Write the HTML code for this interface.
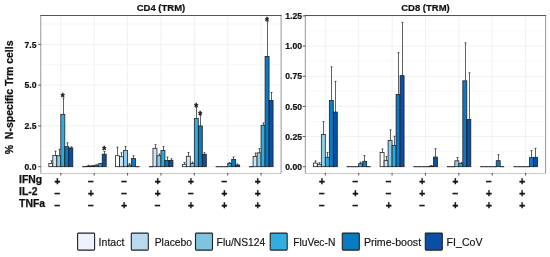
<!DOCTYPE html>
<html><head><meta charset="utf-8"><title>Trm cells chart</title>
<style>html,body{margin:0;padding:0;background:#fff}svg{display:block}</style></head>
<body>
<svg width="550" height="257" viewBox="0 0 550 257" font-family="'Liberation Sans', Arial, sans-serif">
<rect width="550" height="257" fill="#fff"/>
<g>
<rect x="40.8" y="15.5" width="240.30" height="157.5" fill="#fff"/>
<line x1="40.8" x2="281.1" y1="146.31" y2="146.31" stroke="#f3f3f3" stroke-width="0.6"/>
<line x1="40.8" x2="281.1" y1="105.54" y2="105.54" stroke="#f3f3f3" stroke-width="0.6"/>
<line x1="40.8" x2="281.1" y1="64.76" y2="64.76" stroke="#f3f3f3" stroke-width="0.6"/>
<line x1="40.8" x2="281.1" y1="23.99" y2="23.99" stroke="#f3f3f3" stroke-width="0.6"/>
<line x1="40.8" x2="281.1" y1="166.70" y2="166.70" stroke="#ebebeb" stroke-width="0.7"/>
<line x1="40.8" x2="281.1" y1="125.92" y2="125.92" stroke="#ebebeb" stroke-width="0.7"/>
<line x1="40.8" x2="281.1" y1="85.15" y2="85.15" stroke="#ebebeb" stroke-width="0.7"/>
<line x1="40.8" x2="281.1" y1="44.38" y2="44.38" stroke="#ebebeb" stroke-width="0.7"/>
<line x1="60.82" x2="60.82" y1="15.5" y2="173.0" stroke="#ebebeb" stroke-width="0.7"/>
<line x1="94.20" x2="94.20" y1="15.5" y2="173.0" stroke="#ebebeb" stroke-width="0.7"/>
<line x1="127.58" x2="127.58" y1="15.5" y2="173.0" stroke="#ebebeb" stroke-width="0.7"/>
<line x1="160.95" x2="160.95" y1="15.5" y2="173.0" stroke="#ebebeb" stroke-width="0.7"/>
<line x1="194.32" x2="194.32" y1="15.5" y2="173.0" stroke="#ebebeb" stroke-width="0.7"/>
<line x1="227.70" x2="227.70" y1="15.5" y2="173.0" stroke="#ebebeb" stroke-width="0.7"/>
<line x1="261.07" x2="261.07" y1="15.5" y2="173.0" stroke="#ebebeb" stroke-width="0.7"/>
<path d="M51.50 163.50V160.50M50.50 160.80h2" stroke="#3a3a3a" stroke-width="0.8" fill="none"/>
<rect x="48.82" y="163.50" width="4.0" height="3.20" fill="#ffffff" stroke="#1a1a1a" stroke-width="0.75"/>
<path d="M55.50 155.45V150.88M54.50 151.18h2" stroke="#3a3a3a" stroke-width="0.8" fill="none"/>
<rect x="52.82" y="155.45" width="4.0" height="11.25" fill="#cbe5f8" stroke="#1a1a1a" stroke-width="0.75"/>
<path d="M59.50 155.77V149.00M58.50 149.30h2" stroke="#3a3a3a" stroke-width="0.8" fill="none"/>
<rect x="56.82" y="155.77" width="4.0" height="10.93" fill="#8ccdeb" stroke="#1a1a1a" stroke-width="0.75"/>
<path d="M63.50 114.34V97.87M62.50 98.17h2" stroke="#3a3a3a" stroke-width="0.8" fill="none"/>
<rect x="60.82" y="114.34" width="4.0" height="52.36" fill="#2fabe0" stroke="#1a1a1a" stroke-width="0.75"/>
<path d="M67.50 146.70V142.56M66.50 142.86h2" stroke="#3a3a3a" stroke-width="0.8" fill="none"/>
<rect x="64.82" y="146.70" width="4.0" height="20.00" fill="#0a7ac2" stroke="#1a1a1a" stroke-width="0.75"/>
<path d="M71.50 147.99V146.70M70.50 147.00h2" stroke="#3a3a3a" stroke-width="0.8" fill="none"/>
<rect x="68.82" y="147.99" width="4.0" height="18.71" fill="#0b4ea6" stroke="#1a1a1a" stroke-width="0.75"/>
<line x1="82.20" x2="86.20" y1="166.7" y2="166.7" stroke="#1a1a1a" stroke-width="1"/>
<path d="M88.50 166.21V164.91M87.50 165.21h2" stroke="#3a3a3a" stroke-width="0.8" fill="none"/>
<rect x="86.20" y="166.21" width="4.0" height="0.49" fill="#cbe5f8" stroke="#1a1a1a" stroke-width="0.75"/>
<path d="M92.50 165.88V165.40M91.50 165.70h2" stroke="#3a3a3a" stroke-width="0.8" fill="none"/>
<rect x="90.20" y="165.88" width="4.0" height="0.82" fill="#8ccdeb" stroke="#1a1a1a" stroke-width="0.75"/>
<path d="M96.50 165.23V164.58M95.50 164.88h2" stroke="#3a3a3a" stroke-width="0.8" fill="none"/>
<rect x="94.20" y="165.23" width="4.0" height="1.47" fill="#1f8fc0" stroke="#1a1a1a" stroke-width="0.75"/>
<path d="M100.50 163.76V163.11M99.50 163.41h2" stroke="#3a3a3a" stroke-width="0.8" fill="none"/>
<rect x="98.20" y="163.76" width="4.0" height="2.94" fill="#2fabe0" stroke="#1a1a1a" stroke-width="0.75"/>
<path d="M104.50 154.14V151.21M103.50 151.51h2" stroke="#3a3a3a" stroke-width="0.8" fill="none"/>
<rect x="102.20" y="154.14" width="4.0" height="12.56" fill="#0b4ea6" stroke="#1a1a1a" stroke-width="0.75"/>
<path d="M117.50 155.77V146.96M116.50 147.26h2" stroke="#3a3a3a" stroke-width="0.8" fill="none"/>
<rect x="115.58" y="155.77" width="4.0" height="10.93" fill="#ffffff" stroke="#1a1a1a" stroke-width="0.75"/>
<path d="M121.50 156.75V152.51M120.50 152.81h2" stroke="#3a3a3a" stroke-width="0.8" fill="none"/>
<rect x="119.58" y="156.75" width="4.0" height="9.95" fill="#cbe5f8" stroke="#1a1a1a" stroke-width="0.75"/>
<path d="M125.50 150.39V146.31M124.50 146.61h2" stroke="#3a3a3a" stroke-width="0.8" fill="none"/>
<rect x="123.58" y="150.39" width="4.0" height="16.31" fill="#8ccdeb" stroke="#1a1a1a" stroke-width="0.75"/>
<path d="M129.50 165.07V163.44M128.50 163.74h2" stroke="#3a3a3a" stroke-width="0.8" fill="none"/>
<rect x="127.58" y="165.07" width="4.0" height="1.63" fill="#2fabe0" stroke="#1a1a1a" stroke-width="0.75"/>
<path d="M133.50 158.54V155.45M132.50 155.75h2" stroke="#3a3a3a" stroke-width="0.8" fill="none"/>
<rect x="131.57" y="158.54" width="4.0" height="8.15" fill="#0a7ac2" stroke="#1a1a1a" stroke-width="0.75"/>
<line x1="135.57" x2="139.57" y1="166.7" y2="166.7" stroke="#1a1a1a" stroke-width="1"/>
<line x1="148.95" x2="152.95" y1="166.7" y2="166.7" stroke="#1a1a1a" stroke-width="1"/>
<path d="M155.50 148.27V144.36M154.50 144.66h2" stroke="#3a3a3a" stroke-width="0.8" fill="none"/>
<rect x="152.95" y="148.27" width="4.0" height="18.43" fill="#cbe5f8" stroke="#1a1a1a" stroke-width="0.75"/>
<path d="M159.50 155.77V153.82M158.50 154.12h2" stroke="#3a3a3a" stroke-width="0.8" fill="none"/>
<rect x="156.95" y="155.77" width="4.0" height="10.93" fill="#8ccdeb" stroke="#1a1a1a" stroke-width="0.75"/>
<path d="M163.50 150.39V146.31M162.50 146.61h2" stroke="#3a3a3a" stroke-width="0.8" fill="none"/>
<rect x="160.95" y="150.39" width="4.0" height="16.31" fill="#2fabe0" stroke="#1a1a1a" stroke-width="0.75"/>
<path d="M167.50 160.50V156.75M166.50 157.05h2" stroke="#3a3a3a" stroke-width="0.8" fill="none"/>
<rect x="164.95" y="160.50" width="4.0" height="6.20" fill="#0a7ac2" stroke="#1a1a1a" stroke-width="0.75"/>
<path d="M171.50 160.34V158.54M170.50 158.84h2" stroke="#3a3a3a" stroke-width="0.8" fill="none"/>
<rect x="168.95" y="160.34" width="4.0" height="6.36" fill="#0b4ea6" stroke="#1a1a1a" stroke-width="0.75"/>
<path d="M184.50 164.42V162.13M183.50 162.43h2" stroke="#3a3a3a" stroke-width="0.8" fill="none"/>
<rect x="182.32" y="164.42" width="4.0" height="2.28" fill="#ffffff" stroke="#1a1a1a" stroke-width="0.75"/>
<path d="M188.50 156.26V152.18M187.50 152.48h2" stroke="#3a3a3a" stroke-width="0.8" fill="none"/>
<rect x="186.32" y="156.26" width="4.0" height="10.44" fill="#cbe5f8" stroke="#1a1a1a" stroke-width="0.75"/>
<path d="M192.50 163.44V161.81M191.50 162.11h2" stroke="#3a3a3a" stroke-width="0.8" fill="none"/>
<rect x="190.32" y="163.44" width="4.0" height="3.26" fill="#8ccdeb" stroke="#1a1a1a" stroke-width="0.75"/>
<path d="M196.50 118.59V106.84M195.50 107.14h2" stroke="#3a3a3a" stroke-width="0.8" fill="none"/>
<rect x="194.32" y="118.59" width="4.0" height="48.11" fill="#2fabe0" stroke="#1a1a1a" stroke-width="0.75"/>
<path d="M200.50 125.92V114.67M199.50 114.97h2" stroke="#3a3a3a" stroke-width="0.8" fill="none"/>
<rect x="198.32" y="125.92" width="4.0" height="40.77" fill="#0a7ac2" stroke="#1a1a1a" stroke-width="0.75"/>
<path d="M204.50 154.30V152.51M203.50 152.81h2" stroke="#3a3a3a" stroke-width="0.8" fill="none"/>
<rect x="202.32" y="154.30" width="4.0" height="12.40" fill="#0b4ea6" stroke="#1a1a1a" stroke-width="0.75"/>
<line x1="215.70" x2="219.70" y1="166.7" y2="166.7" stroke="#1a1a1a" stroke-width="1"/>
<line x1="219.70" x2="223.70" y1="166.7" y2="166.7" stroke="#1a1a1a" stroke-width="1"/>
<line x1="223.70" x2="227.70" y1="166.7" y2="166.7" stroke="#1a1a1a" stroke-width="1"/>
<path d="M229.50 163.60V162.13M228.50 162.43h2" stroke="#3a3a3a" stroke-width="0.8" fill="none"/>
<rect x="227.70" y="163.60" width="4.0" height="3.10" fill="#2fabe0" stroke="#1a1a1a" stroke-width="0.75"/>
<path d="M233.50 159.36V156.75M232.50 157.05h2" stroke="#3a3a3a" stroke-width="0.8" fill="none"/>
<rect x="231.70" y="159.36" width="4.0" height="7.34" fill="#0a7ac2" stroke="#1a1a1a" stroke-width="0.75"/>
<path d="M237.50 165.07V163.76M236.50 164.06h2" stroke="#3a3a3a" stroke-width="0.8" fill="none"/>
<rect x="235.70" y="165.07" width="4.0" height="1.63" fill="#0b4ea6" stroke="#1a1a1a" stroke-width="0.75"/>
<line x1="249.07" x2="253.07" y1="166.7" y2="166.7" stroke="#1a1a1a" stroke-width="1"/>
<path d="M255.50 156.42V152.84M254.50 153.14h2" stroke="#3a3a3a" stroke-width="0.8" fill="none"/>
<rect x="253.07" y="156.42" width="4.0" height="10.28" fill="#cbe5f8" stroke="#1a1a1a" stroke-width="0.75"/>
<path d="M259.50 152.84V148.27M258.50 148.57h2" stroke="#3a3a3a" stroke-width="0.8" fill="none"/>
<rect x="257.07" y="152.84" width="4.0" height="13.86" fill="#8ccdeb" stroke="#1a1a1a" stroke-width="0.75"/>
<path d="M263.50 125.27V122.66M262.50 122.96h2" stroke="#3a3a3a" stroke-width="0.8" fill="none"/>
<rect x="261.07" y="125.27" width="4.0" height="41.43" fill="#2fabe0" stroke="#1a1a1a" stroke-width="0.75"/>
<path d="M267.50 56.44V21.38M266.50 21.68h2" stroke="#3a3a3a" stroke-width="0.8" fill="none"/>
<rect x="265.07" y="56.44" width="4.0" height="110.26" fill="#0a7ac2" stroke="#1a1a1a" stroke-width="0.75"/>
<path d="M271.50 100.48V92.16M270.50 92.46h2" stroke="#3a3a3a" stroke-width="0.8" fill="none"/>
<rect x="269.07" y="100.48" width="4.0" height="66.22" fill="#0b4ea6" stroke="#1a1a1a" stroke-width="0.75"/>
<text x="62.72" y="100.70" font-size="10" font-weight="bold" text-anchor="middle" fill="#111" stroke="#111" stroke-width="0.3">*</text>
<text x="104.10" y="154.00" font-size="10" font-weight="bold" text-anchor="middle" fill="#111" stroke="#111" stroke-width="0.3">*</text>
<text x="196.22" y="110.80" font-size="10" font-weight="bold" text-anchor="middle" fill="#111" stroke="#111" stroke-width="0.3">*</text>
<text x="200.22" y="118.80" font-size="10" font-weight="bold" text-anchor="middle" fill="#111" stroke="#111" stroke-width="0.3">*</text>
<text x="266.97" y="25.30" font-size="10" font-weight="bold" text-anchor="middle" fill="#111" stroke="#111" stroke-width="0.3">*</text>
<path d="M40.8 173.5H281.1" stroke="#c4c4c4" stroke-width="0.9" fill="none"/>
<path d="M40.8 15.5V173.5M281.1 15.5V173.5" stroke="#969696" stroke-width="1" fill="none"/>
<path d="M40.3 15.5H281.6" stroke="#555" stroke-width="1" fill="none"/>
<line x1="38.20" x2="40.8" y1="166.70" y2="166.70" stroke="#333" stroke-width="0.8"/>
<text x="36.50" y="169.90" font-size="8.6" font-weight="bold" text-anchor="end" fill="#111" stroke="#111" stroke-width="0.2">0.0</text>
<line x1="38.20" x2="40.8" y1="125.92" y2="125.92" stroke="#333" stroke-width="0.8"/>
<text x="36.50" y="129.12" font-size="8.6" font-weight="bold" text-anchor="end" fill="#111" stroke="#111" stroke-width="0.2">2.5</text>
<line x1="38.20" x2="40.8" y1="85.15" y2="85.15" stroke="#333" stroke-width="0.8"/>
<text x="36.50" y="88.35" font-size="8.6" font-weight="bold" text-anchor="end" fill="#111" stroke="#111" stroke-width="0.2">5.0</text>
<line x1="38.20" x2="40.8" y1="44.38" y2="44.38" stroke="#333" stroke-width="0.8"/>
<text x="36.50" y="47.58" font-size="8.6" font-weight="bold" text-anchor="end" fill="#111" stroke="#111" stroke-width="0.2">7.5</text>
<line x1="60.82" x2="60.82" y1="173.0" y2="175.6" stroke="#333" stroke-width="0.8"/>
<text x="57.42" y="185.05" font-size="10" font-weight="bold" text-anchor="middle" fill="#111" stroke="#111" stroke-width="0.35">+</text>
<text x="57.42" y="196.85" font-size="10" font-weight="bold" text-anchor="middle" fill="#111" stroke="#111" stroke-width="0.35">−</text>
<text x="57.42" y="208.75" font-size="10" font-weight="bold" text-anchor="middle" fill="#111" stroke="#111" stroke-width="0.35">−</text>
<line x1="94.20" x2="94.20" y1="173.0" y2="175.6" stroke="#333" stroke-width="0.8"/>
<text x="90.80" y="185.05" font-size="10" font-weight="bold" text-anchor="middle" fill="#111" stroke="#111" stroke-width="0.35">−</text>
<text x="90.80" y="196.85" font-size="10" font-weight="bold" text-anchor="middle" fill="#111" stroke="#111" stroke-width="0.35">+</text>
<text x="90.80" y="208.75" font-size="10" font-weight="bold" text-anchor="middle" fill="#111" stroke="#111" stroke-width="0.35">−</text>
<line x1="127.58" x2="127.58" y1="173.0" y2="175.6" stroke="#333" stroke-width="0.8"/>
<text x="124.17" y="185.05" font-size="10" font-weight="bold" text-anchor="middle" fill="#111" stroke="#111" stroke-width="0.35">−</text>
<text x="124.17" y="196.85" font-size="10" font-weight="bold" text-anchor="middle" fill="#111" stroke="#111" stroke-width="0.35">−</text>
<text x="124.17" y="208.75" font-size="10" font-weight="bold" text-anchor="middle" fill="#111" stroke="#111" stroke-width="0.35">+</text>
<line x1="160.95" x2="160.95" y1="173.0" y2="175.6" stroke="#333" stroke-width="0.8"/>
<text x="157.55" y="185.05" font-size="10" font-weight="bold" text-anchor="middle" fill="#111" stroke="#111" stroke-width="0.35">+</text>
<text x="157.55" y="196.85" font-size="10" font-weight="bold" text-anchor="middle" fill="#111" stroke="#111" stroke-width="0.35">+</text>
<text x="157.55" y="208.75" font-size="10" font-weight="bold" text-anchor="middle" fill="#111" stroke="#111" stroke-width="0.35">−</text>
<line x1="194.32" x2="194.32" y1="173.0" y2="175.6" stroke="#333" stroke-width="0.8"/>
<text x="190.92" y="185.05" font-size="10" font-weight="bold" text-anchor="middle" fill="#111" stroke="#111" stroke-width="0.35">+</text>
<text x="190.92" y="196.85" font-size="10" font-weight="bold" text-anchor="middle" fill="#111" stroke="#111" stroke-width="0.35">−</text>
<text x="190.92" y="208.75" font-size="10" font-weight="bold" text-anchor="middle" fill="#111" stroke="#111" stroke-width="0.35">+</text>
<line x1="227.70" x2="227.70" y1="173.0" y2="175.6" stroke="#333" stroke-width="0.8"/>
<text x="224.30" y="185.05" font-size="10" font-weight="bold" text-anchor="middle" fill="#111" stroke="#111" stroke-width="0.35">−</text>
<text x="224.30" y="196.85" font-size="10" font-weight="bold" text-anchor="middle" fill="#111" stroke="#111" stroke-width="0.35">+</text>
<text x="224.30" y="208.75" font-size="10" font-weight="bold" text-anchor="middle" fill="#111" stroke="#111" stroke-width="0.35">+</text>
<line x1="261.07" x2="261.07" y1="173.0" y2="175.6" stroke="#333" stroke-width="0.8"/>
<text x="257.68" y="185.05" font-size="10" font-weight="bold" text-anchor="middle" fill="#111" stroke="#111" stroke-width="0.35">+</text>
<text x="257.68" y="196.85" font-size="10" font-weight="bold" text-anchor="middle" fill="#111" stroke="#111" stroke-width="0.35">+</text>
<text x="257.68" y="208.75" font-size="10" font-weight="bold" text-anchor="middle" fill="#111" stroke="#111" stroke-width="0.35">+</text>
<text x="160.95" y="11" font-size="9.5" font-weight="bold" text-anchor="middle" fill="#111" stroke="#111" stroke-width="0.2">CD4 (TRM)</text>
</g>
<g>
<rect x="305.3" y="15.5" width="240.30" height="157.5" fill="#fff"/>
<line x1="305.3" x2="545.6" y1="151.62" y2="151.62" stroke="#f3f3f3" stroke-width="0.6"/>
<line x1="305.3" x2="545.6" y1="121.47" y2="121.47" stroke="#f3f3f3" stroke-width="0.6"/>
<line x1="305.3" x2="545.6" y1="91.32" y2="91.32" stroke="#f3f3f3" stroke-width="0.6"/>
<line x1="305.3" x2="545.6" y1="61.17" y2="61.17" stroke="#f3f3f3" stroke-width="0.6"/>
<line x1="305.3" x2="545.6" y1="31.03" y2="31.03" stroke="#f3f3f3" stroke-width="0.6"/>
<line x1="305.3" x2="545.6" y1="166.70" y2="166.70" stroke="#ebebeb" stroke-width="0.7"/>
<line x1="305.3" x2="545.6" y1="136.55" y2="136.55" stroke="#ebebeb" stroke-width="0.7"/>
<line x1="305.3" x2="545.6" y1="106.40" y2="106.40" stroke="#ebebeb" stroke-width="0.7"/>
<line x1="305.3" x2="545.6" y1="76.25" y2="76.25" stroke="#ebebeb" stroke-width="0.7"/>
<line x1="305.3" x2="545.6" y1="46.10" y2="46.10" stroke="#ebebeb" stroke-width="0.7"/>
<line x1="305.3" x2="545.6" y1="15.95" y2="15.95" stroke="#ebebeb" stroke-width="0.7"/>
<line x1="325.32" x2="325.32" y1="15.5" y2="173.0" stroke="#ebebeb" stroke-width="0.7"/>
<line x1="358.70" x2="358.70" y1="15.5" y2="173.0" stroke="#ebebeb" stroke-width="0.7"/>
<line x1="392.08" x2="392.08" y1="15.5" y2="173.0" stroke="#ebebeb" stroke-width="0.7"/>
<line x1="425.45" x2="425.45" y1="15.5" y2="173.0" stroke="#ebebeb" stroke-width="0.7"/>
<line x1="458.82" x2="458.82" y1="15.5" y2="173.0" stroke="#ebebeb" stroke-width="0.7"/>
<line x1="492.20" x2="492.20" y1="15.5" y2="173.0" stroke="#ebebeb" stroke-width="0.7"/>
<line x1="525.58" x2="525.58" y1="15.5" y2="173.0" stroke="#ebebeb" stroke-width="0.7"/>
<path d="M315.50 163.08V160.67M314.50 160.97h2" stroke="#3a3a3a" stroke-width="0.8" fill="none"/>
<rect x="313.32" y="163.08" width="4.0" height="3.62" fill="#ffffff" stroke="#1a1a1a" stroke-width="0.75"/>
<path d="M319.50 164.29V162.48M318.50 162.78h2" stroke="#3a3a3a" stroke-width="0.8" fill="none"/>
<rect x="317.32" y="164.29" width="4.0" height="2.41" fill="#cbe5f8" stroke="#1a1a1a" stroke-width="0.75"/>
<path d="M323.50 134.38V121.35M322.50 121.65h2" stroke="#3a3a3a" stroke-width="0.8" fill="none"/>
<rect x="321.32" y="134.38" width="4.0" height="32.32" fill="#8ccdeb" stroke="#1a1a1a" stroke-width="0.75"/>
<path d="M327.50 157.29V152.23M326.50 152.53h2" stroke="#3a3a3a" stroke-width="0.8" fill="none"/>
<rect x="325.32" y="157.29" width="4.0" height="9.41" fill="#2fabe0" stroke="#1a1a1a" stroke-width="0.75"/>
<path d="M331.50 100.49V66.60M330.50 66.90h2" stroke="#3a3a3a" stroke-width="0.8" fill="none"/>
<rect x="329.32" y="100.49" width="4.0" height="66.21" fill="#0a7ac2" stroke="#1a1a1a" stroke-width="0.75"/>
<path d="M335.50 112.07V81.07M334.50 81.37h2" stroke="#3a3a3a" stroke-width="0.8" fill="none"/>
<rect x="333.32" y="112.07" width="4.0" height="54.63" fill="#0b4ea6" stroke="#1a1a1a" stroke-width="0.75"/>
<line x1="346.70" x2="350.70" y1="166.7" y2="166.7" stroke="#1a1a1a" stroke-width="1"/>
<line x1="350.70" x2="354.70" y1="166.7" y2="166.7" stroke="#1a1a1a" stroke-width="1"/>
<line x1="354.70" x2="358.70" y1="166.7" y2="166.7" stroke="#1a1a1a" stroke-width="1"/>
<path d="M360.50 163.69V161.88M359.50 162.18h2" stroke="#3a3a3a" stroke-width="0.8" fill="none"/>
<rect x="358.70" y="163.69" width="4.0" height="3.02" fill="#2fabe0" stroke="#1a1a1a" stroke-width="0.75"/>
<path d="M364.50 161.27V155.36M363.50 155.66h2" stroke="#3a3a3a" stroke-width="0.8" fill="none"/>
<rect x="362.70" y="161.27" width="4.0" height="5.43" fill="#0a7ac2" stroke="#1a1a1a" stroke-width="0.75"/>
<line x1="366.70" x2="370.70" y1="166.7" y2="166.7" stroke="#1a1a1a" stroke-width="1"/>
<path d="M382.50 152.59V148.73M381.50 149.03h2" stroke="#3a3a3a" stroke-width="0.8" fill="none"/>
<rect x="380.08" y="152.59" width="4.0" height="14.11" fill="#ffffff" stroke="#1a1a1a" stroke-width="0.75"/>
<path d="M386.50 160.67V156.21M385.50 156.51h2" stroke="#3a3a3a" stroke-width="0.8" fill="none"/>
<rect x="384.08" y="160.67" width="4.0" height="6.03" fill="#cbe5f8" stroke="#1a1a1a" stroke-width="0.75"/>
<path d="M390.50 140.41V129.56M389.50 129.86h2" stroke="#3a3a3a" stroke-width="0.8" fill="none"/>
<rect x="388.08" y="140.41" width="4.0" height="26.29" fill="#8ccdeb" stroke="#1a1a1a" stroke-width="0.75"/>
<path d="M394.50 145.47V135.95M393.50 136.25h2" stroke="#3a3a3a" stroke-width="0.8" fill="none"/>
<rect x="392.08" y="145.47" width="4.0" height="21.23" fill="#2fabe0" stroke="#1a1a1a" stroke-width="0.75"/>
<path d="M398.50 94.46V52.37M397.50 52.67h2" stroke="#3a3a3a" stroke-width="0.8" fill="none"/>
<rect x="396.08" y="94.46" width="4.0" height="72.24" fill="#0a7ac2" stroke="#1a1a1a" stroke-width="0.75"/>
<path d="M402.50 75.65V22.10M401.50 22.40h2" stroke="#3a3a3a" stroke-width="0.8" fill="none"/>
<rect x="400.08" y="75.65" width="4.0" height="91.05" fill="#0b4ea6" stroke="#1a1a1a" stroke-width="0.75"/>
<line x1="413.45" x2="417.45" y1="166.7" y2="166.7" stroke="#1a1a1a" stroke-width="1"/>
<line x1="417.45" x2="421.45" y1="166.7" y2="166.7" stroke="#1a1a1a" stroke-width="1"/>
<line x1="421.45" x2="425.45" y1="166.7" y2="166.7" stroke="#1a1a1a" stroke-width="1"/>
<line x1="425.45" x2="429.45" y1="166.7" y2="166.7" stroke="#1a1a1a" stroke-width="1"/>
<path d="M431.50 166.10V165.49M430.50 165.79h2" stroke="#3a3a3a" stroke-width="0.8" fill="none"/>
<rect x="429.45" y="166.10" width="4.0" height="0.60" fill="#0a7ac2" stroke="#1a1a1a" stroke-width="0.75"/>
<path d="M435.50 157.05V148.49M434.50 148.79h2" stroke="#3a3a3a" stroke-width="0.8" fill="none"/>
<rect x="433.45" y="157.05" width="4.0" height="9.65" fill="#0b4ea6" stroke="#1a1a1a" stroke-width="0.75"/>
<line x1="446.82" x2="450.82" y1="166.7" y2="166.7" stroke="#1a1a1a" stroke-width="1"/>
<line x1="450.82" x2="454.82" y1="166.7" y2="166.7" stroke="#1a1a1a" stroke-width="1"/>
<path d="M457.50 160.79V157.29M456.50 157.59h2" stroke="#3a3a3a" stroke-width="0.8" fill="none"/>
<rect x="454.82" y="160.79" width="4.0" height="5.91" fill="#8ccdeb" stroke="#1a1a1a" stroke-width="0.75"/>
<path d="M461.50 163.69V162.12M460.50 162.42h2" stroke="#3a3a3a" stroke-width="0.8" fill="none"/>
<rect x="458.82" y="163.69" width="4.0" height="3.02" fill="#2fabe0" stroke="#1a1a1a" stroke-width="0.75"/>
<path d="M465.50 80.83V42.60M464.50 42.90h2" stroke="#3a3a3a" stroke-width="0.8" fill="none"/>
<rect x="462.82" y="80.83" width="4.0" height="85.87" fill="#0a7ac2" stroke="#1a1a1a" stroke-width="0.75"/>
<path d="M469.50 119.55V72.51M468.50 72.81h2" stroke="#3a3a3a" stroke-width="0.8" fill="none"/>
<rect x="466.82" y="119.55" width="4.0" height="47.15" fill="#0b4ea6" stroke="#1a1a1a" stroke-width="0.75"/>
<line x1="480.20" x2="484.20" y1="166.7" y2="166.7" stroke="#1a1a1a" stroke-width="1"/>
<line x1="484.20" x2="488.20" y1="166.7" y2="166.7" stroke="#1a1a1a" stroke-width="1"/>
<line x1="488.20" x2="492.20" y1="166.7" y2="166.7" stroke="#1a1a1a" stroke-width="1"/>
<line x1="492.20" x2="496.20" y1="166.7" y2="166.7" stroke="#1a1a1a" stroke-width="1"/>
<path d="M498.50 160.67V154.40M497.50 154.70h2" stroke="#3a3a3a" stroke-width="0.8" fill="none"/>
<rect x="496.20" y="160.67" width="4.0" height="6.03" fill="#0a7ac2" stroke="#1a1a1a" stroke-width="0.75"/>
<line x1="500.20" x2="504.20" y1="166.7" y2="166.7" stroke="#1a1a1a" stroke-width="1"/>
<line x1="513.58" x2="517.58" y1="166.7" y2="166.7" stroke="#1a1a1a" stroke-width="1"/>
<line x1="517.58" x2="521.58" y1="166.7" y2="166.7" stroke="#1a1a1a" stroke-width="1"/>
<line x1="521.58" x2="525.58" y1="166.7" y2="166.7" stroke="#1a1a1a" stroke-width="1"/>
<line x1="525.58" x2="529.58" y1="166.7" y2="166.7" stroke="#1a1a1a" stroke-width="1"/>
<path d="M531.50 157.66V150.30M530.50 150.60h2" stroke="#3a3a3a" stroke-width="0.8" fill="none"/>
<rect x="529.58" y="157.66" width="4.0" height="9.04" fill="#0a7ac2" stroke="#1a1a1a" stroke-width="0.75"/>
<path d="M535.50 157.29V148.01M534.50 148.31h2" stroke="#3a3a3a" stroke-width="0.8" fill="none"/>
<rect x="533.58" y="157.29" width="4.0" height="9.41" fill="#0b4ea6" stroke="#1a1a1a" stroke-width="0.75"/>
<path d="M305.3 173.5H545.6" stroke="#c4c4c4" stroke-width="0.9" fill="none"/>
<path d="M305.3 15.5V173.5M545.6 15.5V173.5" stroke="#969696" stroke-width="1" fill="none"/>
<path d="M304.8 15.5H546.1" stroke="#555" stroke-width="1" fill="none"/>
<line x1="302.70" x2="305.3" y1="166.70" y2="166.70" stroke="#333" stroke-width="0.8"/>
<text x="302.00" y="169.90" font-size="8.6" font-weight="bold" text-anchor="end" fill="#111" stroke="#111" stroke-width="0.2">0.00</text>
<line x1="302.70" x2="305.3" y1="136.55" y2="136.55" stroke="#333" stroke-width="0.8"/>
<text x="302.00" y="139.75" font-size="8.6" font-weight="bold" text-anchor="end" fill="#111" stroke="#111" stroke-width="0.2">0.25</text>
<line x1="302.70" x2="305.3" y1="106.40" y2="106.40" stroke="#333" stroke-width="0.8"/>
<text x="302.00" y="109.60" font-size="8.6" font-weight="bold" text-anchor="end" fill="#111" stroke="#111" stroke-width="0.2">0.50</text>
<line x1="302.70" x2="305.3" y1="76.25" y2="76.25" stroke="#333" stroke-width="0.8"/>
<text x="302.00" y="79.45" font-size="8.6" font-weight="bold" text-anchor="end" fill="#111" stroke="#111" stroke-width="0.2">0.75</text>
<line x1="302.70" x2="305.3" y1="46.10" y2="46.10" stroke="#333" stroke-width="0.8"/>
<text x="302.00" y="49.30" font-size="8.6" font-weight="bold" text-anchor="end" fill="#111" stroke="#111" stroke-width="0.2">1.00</text>
<line x1="302.70" x2="305.3" y1="15.95" y2="15.95" stroke="#333" stroke-width="0.8"/>
<text x="302.00" y="19.15" font-size="8.6" font-weight="bold" text-anchor="end" fill="#111" stroke="#111" stroke-width="0.2">1.25</text>
<line x1="325.32" x2="325.32" y1="173.0" y2="175.6" stroke="#333" stroke-width="0.8"/>
<text x="321.93" y="185.05" font-size="10" font-weight="bold" text-anchor="middle" fill="#111" stroke="#111" stroke-width="0.35">+</text>
<text x="321.93" y="196.85" font-size="10" font-weight="bold" text-anchor="middle" fill="#111" stroke="#111" stroke-width="0.35">−</text>
<text x="321.93" y="208.75" font-size="10" font-weight="bold" text-anchor="middle" fill="#111" stroke="#111" stroke-width="0.35">−</text>
<line x1="358.70" x2="358.70" y1="173.0" y2="175.6" stroke="#333" stroke-width="0.8"/>
<text x="355.30" y="185.05" font-size="10" font-weight="bold" text-anchor="middle" fill="#111" stroke="#111" stroke-width="0.35">−</text>
<text x="355.30" y="196.85" font-size="10" font-weight="bold" text-anchor="middle" fill="#111" stroke="#111" stroke-width="0.35">+</text>
<text x="355.30" y="208.75" font-size="10" font-weight="bold" text-anchor="middle" fill="#111" stroke="#111" stroke-width="0.35">−</text>
<line x1="392.08" x2="392.08" y1="173.0" y2="175.6" stroke="#333" stroke-width="0.8"/>
<text x="388.68" y="185.05" font-size="10" font-weight="bold" text-anchor="middle" fill="#111" stroke="#111" stroke-width="0.35">−</text>
<text x="388.68" y="196.85" font-size="10" font-weight="bold" text-anchor="middle" fill="#111" stroke="#111" stroke-width="0.35">−</text>
<text x="388.68" y="208.75" font-size="10" font-weight="bold" text-anchor="middle" fill="#111" stroke="#111" stroke-width="0.35">+</text>
<line x1="425.45" x2="425.45" y1="173.0" y2="175.6" stroke="#333" stroke-width="0.8"/>
<text x="422.05" y="185.05" font-size="10" font-weight="bold" text-anchor="middle" fill="#111" stroke="#111" stroke-width="0.35">+</text>
<text x="422.05" y="196.85" font-size="10" font-weight="bold" text-anchor="middle" fill="#111" stroke="#111" stroke-width="0.35">+</text>
<text x="422.05" y="208.75" font-size="10" font-weight="bold" text-anchor="middle" fill="#111" stroke="#111" stroke-width="0.35">−</text>
<line x1="458.82" x2="458.82" y1="173.0" y2="175.6" stroke="#333" stroke-width="0.8"/>
<text x="455.43" y="185.05" font-size="10" font-weight="bold" text-anchor="middle" fill="#111" stroke="#111" stroke-width="0.35">+</text>
<text x="455.43" y="196.85" font-size="10" font-weight="bold" text-anchor="middle" fill="#111" stroke="#111" stroke-width="0.35">−</text>
<text x="455.43" y="208.75" font-size="10" font-weight="bold" text-anchor="middle" fill="#111" stroke="#111" stroke-width="0.35">+</text>
<line x1="492.20" x2="492.20" y1="173.0" y2="175.6" stroke="#333" stroke-width="0.8"/>
<text x="488.80" y="185.05" font-size="10" font-weight="bold" text-anchor="middle" fill="#111" stroke="#111" stroke-width="0.35">−</text>
<text x="488.80" y="196.85" font-size="10" font-weight="bold" text-anchor="middle" fill="#111" stroke="#111" stroke-width="0.35">+</text>
<text x="488.80" y="208.75" font-size="10" font-weight="bold" text-anchor="middle" fill="#111" stroke="#111" stroke-width="0.35">+</text>
<line x1="525.58" x2="525.58" y1="173.0" y2="175.6" stroke="#333" stroke-width="0.8"/>
<text x="522.18" y="185.05" font-size="10" font-weight="bold" text-anchor="middle" fill="#111" stroke="#111" stroke-width="0.35">+</text>
<text x="522.18" y="196.85" font-size="10" font-weight="bold" text-anchor="middle" fill="#111" stroke="#111" stroke-width="0.35">+</text>
<text x="522.18" y="208.75" font-size="10" font-weight="bold" text-anchor="middle" fill="#111" stroke="#111" stroke-width="0.35">+</text>
<text x="425.45" y="11" font-size="9.5" font-weight="bold" text-anchor="middle" fill="#111" stroke="#111" stroke-width="0.2">CD8 (TRM)</text>
</g>
<text x="19.1" y="183.0" font-size="10.4" font-weight="bold" fill="#111" stroke="#111" stroke-width="0.25">IFNg</text>
<text x="19.1" y="195.3" font-size="10.4" font-weight="bold" fill="#111" stroke="#111" stroke-width="0.25">IL-2</text>
<text x="19.1" y="207.4" font-size="10.4" font-weight="bold" fill="#111" stroke="#111" stroke-width="0.25">TNFa</text>
<text transform="translate(13.2,154.3) rotate(-90)" font-size="10.5" font-weight="bold" fill="#111" stroke="#111" stroke-width="0.25" xml:space="preserve">%  N-specific Trm cells</text>
<rect x="77.6" y="233.1" width="17" height="17" fill="#eef2fc" stroke="#222" stroke-width="1.1" rx="0.8"/>
<text x="98.6" y="246.3" font-size="10.5" textLength="25.8" lengthAdjust="spacingAndGlyphs" fill="#111" stroke="#111" stroke-width="0.15">Intact</text>
<rect x="131.3" y="233.1" width="17" height="17" fill="#b9d9f0" stroke="#222" stroke-width="1.1" rx="0.8"/>
<text x="154.7" y="246.3" font-size="10.5" textLength="37.4" lengthAdjust="spacingAndGlyphs" fill="#111" stroke="#111" stroke-width="0.15">Placebo</text>
<rect x="195.5" y="233.1" width="17" height="17" fill="#7ec4de" stroke="#222" stroke-width="1.1" rx="0.8"/>
<text x="216.6" y="246.3" font-size="10.5" textLength="48.6" lengthAdjust="spacingAndGlyphs" fill="#111" stroke="#111" stroke-width="0.15">Flu/NS124</text>
<rect x="270.2" y="233.1" width="17" height="17" fill="#35acde" stroke="#222" stroke-width="1.1" rx="0.8"/>
<text x="293.2" y="246.3" font-size="10.5" textLength="42.1" lengthAdjust="spacingAndGlyphs" fill="#111" stroke="#111" stroke-width="0.15">FluVec-N</text>
<rect x="342.3" y="233.1" width="17" height="17" fill="#0a7ac2" stroke="#222" stroke-width="1.1" rx="0.8"/>
<text x="363.9" y="246.3" font-size="10.5" textLength="57.2" lengthAdjust="spacingAndGlyphs" fill="#111" stroke="#111" stroke-width="0.15">Prime-boost</text>
<rect x="425.3" y="233.1" width="17" height="17" fill="#0b4ea6" stroke="#222" stroke-width="1.1" rx="0.8"/>
<text x="446.6" y="246.3" font-size="10.5" textLength="35.9" lengthAdjust="spacingAndGlyphs" fill="#111" stroke="#111" stroke-width="0.15">FI_CoV</text>
</svg>
</body></html>
